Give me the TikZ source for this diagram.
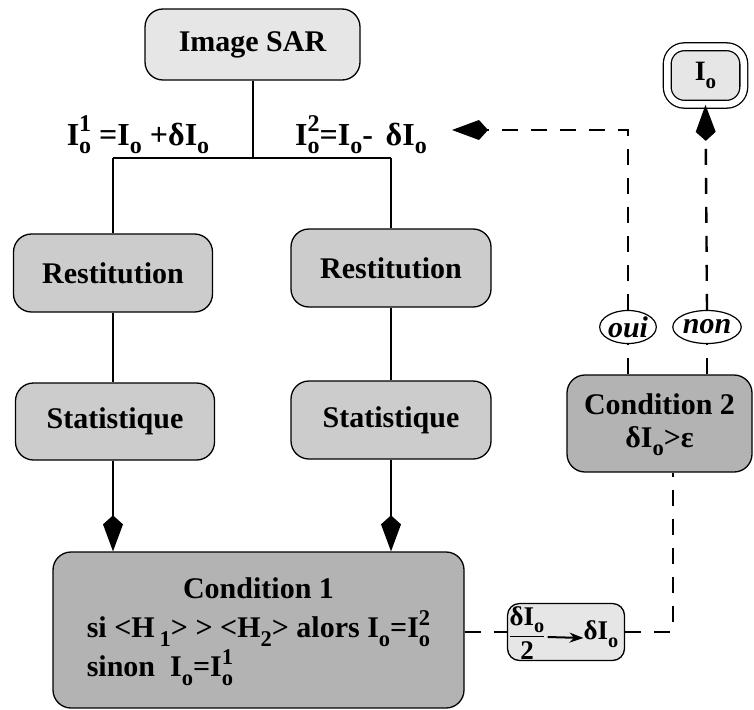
\documentclass[tikz,border=0pt]{standalone}
\usepackage{fontspec}
\setmainfont{Liberation Serif}
\usepackage{graphicx}
\usepackage{amsmath}
\usetikzlibrary{arrows.meta,shapes.geometric}
\newcommand{\lo}[1]{\raisebox{-0.28em}{\scalebox{0.75}{#1}}}
\newcommand{\hi}[1]{\raisebox{0.42em}{\scalebox{0.75}{#1}}}
\newcommand{\Iop}[1]{I\rlap{\hi{#1}}\lo{o}}
\definecolor{lightfill}{HTML}{E6E6E6}
\definecolor{midfill}{HTML}{CCCCCC}
\definecolor{darkfill}{HTML}{B3B3B3}
\begin{document}
\begin{tikzpicture}[x=1pt,y=-1pt,
  box/.style={draw, line width=1.3pt, rounded corners=18pt, inner sep=0pt, align=center,
    font=\fontsize{30}{36}\selectfont\bfseries},
  conn/.style={line width=2pt},
  dsh/.style={line width=2.4pt, dash pattern=on 16pt off 13pt},
  kite/.style={-{Kite[length=36pt,width=20pt,inset=9pt]}},
  lbl/.style={inner sep=0pt, anchor=base, font=\fontsize{32}{38}\selectfont\bfseries},
  bubble/.style={draw, ellipse, line width=1.2pt, fill=white, inner sep=0pt,
    minimum width=56pt, minimum height=33pt, font=\fontsize{30}{34}\selectfont\bfseries\itshape},
  small/.style={inner sep=0pt, font=\fontsize{27}{32}\selectfont\bfseries}
]
\useasboundingbox (0,0) rectangle (754,709);

% nodes
\node[box, fill=lightfill, minimum width=215pt, minimum height=71pt] (sar) at (252.5,44.5) {Image SAR};
\node[box, fill=midfill, minimum width=199pt, minimum height=78pt] (rl) at (113,273) {Restitution};
\node[box, fill=midfill, minimum width=200pt, minimum height=78pt] (rr) at (391,268) {Restitution};
\node[box, fill=midfill, minimum width=199pt, minimum height=77pt] (sl) at (115,421.5) {Statistique};
\node[box, fill=midfill, minimum width=200pt, minimum height=78pt] (sr) at (391,420) {Statistique};
\node[box, fill=darkfill, minimum width=411pt, minimum height=156pt] (c1) at (258.5,630)
  {\raisebox{-8pt}{\fontsize{30}{39}\selectfont\begin{tabular}{@{}l@{}}\multicolumn{1}{@{}c@{}}{Condition 1}\\
   si <H\,\lo{1}> > <H\lo{2}> alors I\lo{o}=\Iop{2}\\
   sinon\ \ I\lo{o}=\Iop{1}\end{tabular}}};
\node[box, fill=darkfill, minimum width=185pt, minimum height=97pt] (c2) at (659.5,423.5)
  {\raisebox{-3pt}{\begin{tabular}{@{}c@{}}Condition 2\\[-3pt] δI\lo{o}>ε\end{tabular}}};
\node[draw, line width=1.3pt, double, double distance=6.5pt, fill=lightfill, rounded corners=17pt,
  minimum width=76.5pt, minimum height=57.5pt, inner sep=0pt,
  font=\fontsize{28}{32}\selectfont\bfseries] (io) at (705.5,75.5) {I\lo{o}};
\node[bubble] (oui) at (628,327) {oui};
\node[bubble] (non) at (707,327) {non};
\node[draw, line width=1.3pt, fill=lightfill, rounded corners=12pt, minimum width=117pt,
  minimum height=57pt, inner sep=0pt] (sb) at (566,632) {};
\node[small] (fr) at (527,633) {$\dfrac{\hbox{δI\lo{o}}}{\hbox{2}}$};
\node[small] (res) at (601,634) {δI\lo{o}};

% labels
\node[lbl] (l1) at (138,145) {\Iop{1} =I\lo{o} +δI\lo{o}};
\node[lbl] (l2) at (361,145) {\Iop{2}=I\lo{o}-\hspace{0.4em}δI\lo{o}};

% solid connectors
\coordinate (j) at (252.5,158);
\coordinate (jl) at (113,158);
\coordinate (jr) at (391,158);
\draw[conn] (sar.south) -- (j);
\draw[conn] (jl) -- (jr);
\draw[conn] (jl) -- (rl.north);
\draw[conn] (jr) -- (rr.north);
\draw[conn] (rl.south) -- (rl.south |- sl.north);
\draw[conn] (rr.south) -- (sr.north);
\draw[conn, kite] (rl.south |- sl.south) -- (rl.south |- c1.north);
\draw[conn, kite] (sr.south) -- (sr.south |- c1.north);
\draw[line width=2pt, -{Stealth[length=14pt,width=10pt]}] (fr.east) ++(2pt,-4pt) -- ([yshift=-4pt]res.west);

% dashed connectors
\coordinate (ctop) at (628,130);
\coordinate (tip) at (452,130);
\coordinate (cbot) at (673,632);
\draw[dsh] (c2.north -| oui.south) -- (oui.south);
\draw[dsh] (c2.north -| non.south) -- (non.south);
\draw[dsh, kite] (oui.north) -- (ctop) -- (tip);
\draw[dsh, kite] (non.north) -- (io.south);
\draw[dsh] (c1.east |- sb.west) -- (sb.west);
\draw[dsh] (sb.east) -- (cbot) -- (cbot |- c2.south);
\end{tikzpicture}
\end{document}
